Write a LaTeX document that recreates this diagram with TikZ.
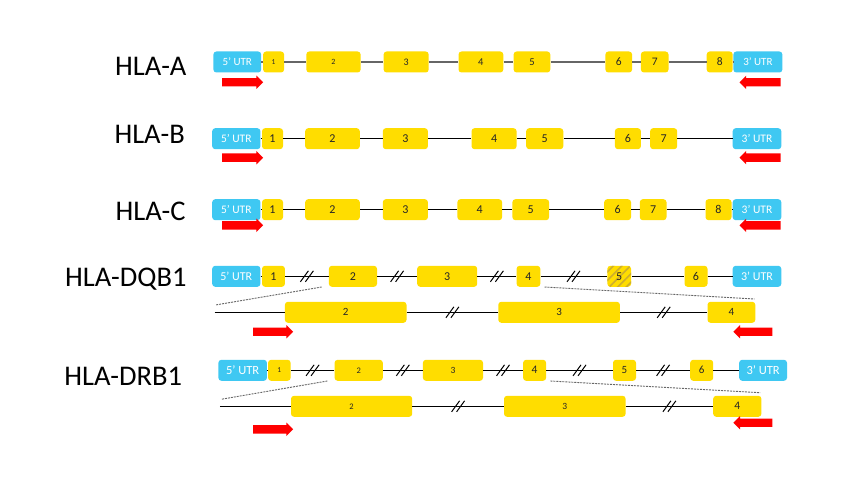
\documentclass[tikz,border=0pt]{standalone}
\usepackage{fontspec}
\setmainfont{Carlito}
\usetikzlibrary{shapes.arrows,patterns.meta}
\definecolor{utrblue}{HTML}{3FC8F2}
\definecolor{exonyellow}{HTML}{FFDD00}
\definecolor{hatchgold}{HTML}{CDAE2E}
\definecolor{primerred}{HTML}{FF0000}
\tikzset{
  box/.style={rounded corners=3pt,minimum height=21,inner sep=0pt},
  utr/.style={box,fill=utrblue,text=white,font=\fontsize{11.5}{11.5}\selectfont},
  exon/.style={box,fill=exonyellow,text=black!85},
  hatched/.style={preaction={fill=exonyellow},pattern={Lines[angle=45,distance=6pt,line width=1.6pt]},pattern color=hatchgold},
  intron/.style={line width=1.1pt,black},
  zoomline/.style={black!60,line width=0.9pt,dash pattern=on 2pt off 1pt},
  fwd/.style={single arrow,fill=primerred,minimum height=41,
    single arrow head extend=2.5,single arrow head indent=0,inner xsep=0pt,inner ysep=4pt},
  rev/.style={fwd,shape border rotate=180},
  gene/.style={anchor=base east,font=\fontsize{28.5}{28.5}\selectfont},
  brk/.pic={\draw[line width=1pt] (-6.5,5.5) -- (1.5,-5.5) (-1.5,5.5) -- (6.5,-5.5);}
}

\begin{document}
\begin{tikzpicture}[x=1pt,y=-1pt]

\fill[white] (0,0) rectangle (859,489);

% HLA-A
\node[gene] (gA) at (190,76) {HLA-A};
\node[utr,minimum width=47.8,font=\fontsize{11}{11}\selectfont] (Au5) at (237.3,62) {5’ UTR};
\node[utr,minimum width=49,font=\fontsize{11}{11}\selectfont] (Au3) at (757.9,62) {3’ UTR};
\foreach \n/\l/\r/\s in {1/263.1/284.1/7.5,2/306.3/360.6/8,3/383.6/428.7/10,4/458.5/503.3/10.5,
  5/513.6/550.3/10.5,6/605.4/632.1/11.5,7/640.9/668.5/11.5,8/706.7/732.7/11.5}
  \node[exon,minimum width=\r-\l,font=\fontsize{\s}{\s}\selectfont] (A\n) at ({(\l+\r)/2},62) {\n};
\foreach \a/\b in {Au5/A1,A1/A2,A2/A3,A3/A4,A4/A5,A5/A6,A6/A7,A7/A8,A8/Au3}
  \draw[intron,black!60] (\a) -- (\b);
\node[fwd] (Af) at (240.5,82.3) {};
\node[rev] (Ar) at (762.1,82.3) {};

% HLA-B
\node[gene] (gB) at (188.3,143.3) {HLA-B};
\node[utr,minimum width=48.2] (Bu5) at (236.3,138.7) {5’ UTR};
\node[utr,minimum width=48.6] (Bu3) at (757,138.7) {3’ UTR};
\foreach \n/\l/\r in {1/262/283,2/305.2/359.8,3/382.8/427.9,4/471.5/516.6,
  5/526.2/563.3,6/614.9/640.9,7/650.1/677.2}
  \node[exon,minimum width=\r-\l,font=\fontsize{12}{12}\selectfont] (B\n) at ({(\l+\r)/2},138.7) {\n};
\foreach \a/\b in {Bu5/B1,B1/B2,B2/B3,B3/B4,B4/B5,B5/B6,B6/B7,B7/Bu3}
  \draw[intron] (\a) -- (\b);
\node[fwd] (Bf) at (240.5,157.7) {};
\node[rev] (Br) at (762.1,157.7) {};

% HLA-C
\node[gene] (gC) at (189,220) {HLA-C};
\node[utr,minimum width=48.2] (Cu5) at (236.3,209.7) {5’ UTR};
\node[utr,minimum width=48.6] (Cu3) at (757,209.7) {3’ UTR};
\foreach \n/\l/\r in {1/262/283,2/305.2/359.8,3/382.8/427.9,4/457.4/502.1,
  5/512.4/549.1,6/604.2/631,7/639.8/666.5,8/705.5/731.5}
  \node[exon,minimum width=\r-\l,font=\fontsize{12}{12}\selectfont] (C\n) at ({(\l+\r)/2},209.7) {\n};
\foreach \a/\b in {Cu5/C1,C1/C2,C2/C3,C3/C4,C4/C5,C5/C6,C6/C7,C7/C8,C8/Cu3}
  \draw[intron] (\a) -- (\b);
\node[fwd] (Cf) at (240.5,225.3) {};
\node[rev] (Cr) at (762.1,225.3) {};

% HLA-DQB1, whole gene
\node[gene] (gQ) at (190,286.7) {HLA-DQB1};
\node[utr,minimum width=48.2,font=\fontsize{12}{12}\selectfont] (Qu5) at (236.3,276.3) {5’ UTR};
\node[utr,minimum width=48.6,font=\fontsize{12}{12}\selectfont] (Qu3) at (757,276.3) {3’ UTR};
\foreach \n/\l/\r in {1/262/284.9,2/328.9/377,3/417.2/477.2,4/516.6/540.3,6/684.5/707.5}
  \node[exon,minimum width=\r-\l,font=\fontsize{12}{12}\selectfont] (Q\n) at ({(\l+\r)/2},276.3) {\n};
\node[exon,hatched,minimum width=23.7,font=\fontsize{12}{12}\selectfont] (Q5) at (619.2,276.3) {5};
\foreach \a/\b in {Qu5/Q1,Q5/Q6,Q6/Qu3}
  \draw[intron] (\a) -- (\b);
\foreach \a/\b in {Q1/Q2,Q2/Q3,Q3/Q4,Q4/Q5}
{
  \draw[intron] (\a) -- coordinate[midway] (\a\b) (\b);
  \pic at (\a\b) {brk};
}

% HLA-DQB1, exons 2-4 enlarged
\coordinate (Lstart) at (214.5,312.3);
\foreach \n/\l/\r in {2/284.9/406.5,3/498.3/619.9,4/707.5/755.3}
  \node[exon,minimum width=\r-\l,font=\fontsize{11}{11}\selectfont] (L\n) at ({(\l+\r)/2},312.3) {\n};
\draw[intron] (Lstart) -- (L2);
\foreach \a/\b in {L2/L3,L3/L4}
{
  \draw[intron] (\a) -- coordinate[midway] (\a\b) (\b);
  \pic at (\a\b) {brk};
}
\coordinate (Qzl) at (215.3,305);
\coordinate (Qzr) at (754.5,299);
\draw[zoomline] ([xshift=-7pt]Q2.south west) -- (Qzl);
\draw[zoomline] ([xshift=4pt]Q4.south east) -- (Qzr);
\node[fwd,minimum height=40] (Lf) at (271,331.7) {};
\node[rev,minimum height=39] (Lr) at (754.9,331.7) {};

% HLA-DRB1, whole gene
\node[gene] (gR) at (185.7,385) {HLA-DRB1};
\node[utr,minimum width=48.5,font=\fontsize{12.5}{12.5}\selectfont] (Ru5) at (242.65,370.3) {5’ UTR};
\node[utr,minimum width=47.8,font=\fontsize{12.5}{12.5}\selectfont] (Ru3) at (763.1,370.3) {3’ UTR};
\foreach \n/\l/\r/\s in {1/268.1/290.6/7.5,2/334.6/382.8/8.5,3/422.9/483/9.5,4/523.1/546.1/11.5,
  5/613/636/11,6/690.2/713.2/11}
  \node[exon,minimum width=\r-\l,font=\fontsize{\s}{\s}\selectfont] (R\n) at ({(\l+\r)/2},370.3) {\n};
\foreach \a/\b in {Ru5/R1,R6/Ru3}
  \draw[intron] (\a) -- (\b);
\foreach \a/\b in {R1/R2,R2/R3,R3/R4,R4/R5,R5/R6}
{
  \draw[intron] (\a) -- coordinate[midway] (\a\b) (\b);
  \pic at (\a\b) {brk};
}

% HLA-DRB1, exons 2-4 enlarged
\coordinate (Sstart) at (219.9,406.3);
\foreach \n/\l/\r/\s in {2/291/412.2/8.5,3/504/625.6/9.5,4/713.2/761.4/11.5}
  \node[exon,minimum width=\r-\l,font=\fontsize{\s}{\s}\selectfont] (S\n) at ({(\l+\r)/2},406.3) {\n};
\draw[intron] (Sstart) -- (S2);
\foreach \a/\b in {S2/S3,S3/S4}
{
  \draw[intron] (\a) -- coordinate[midway] (\a\b) (\b);
  \pic at (\a\b) {brk};
}
\coordinate (Rzl) at (221,399.3);
\coordinate (Rzr) at (760.2,392.7);
\draw[zoomline] ([xshift=-7pt]R2.south west) -- (Rzl);
\draw[zoomline] ([xshift=4pt]R4.south east) -- (Rzr);
\node[fwd,minimum height=40] (Sf) at (271,429.3) {};
\node[rev,minimum height=39] (Sr) at (754.9,422.7) {};

\end{tikzpicture}
\end{document}
